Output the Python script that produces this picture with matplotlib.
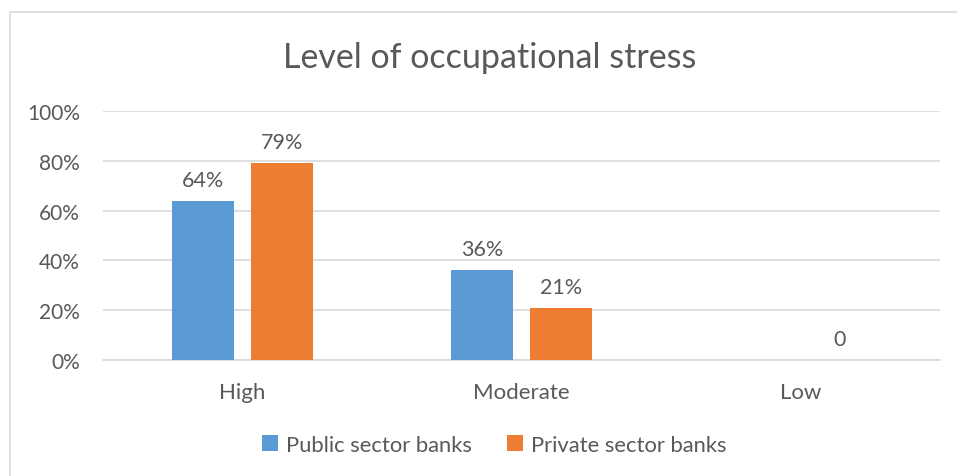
"""
Level of occupational stress: public vs private sector banks.
"""

import numpy as np
import matplotlib.pyplot as plt
from matplotlib.patches import Rectangle

categories = ['High', 'Moderate', 'Low']
public = [0.64, 0.36, 0.0]
private = [0.79, 0.21, 0.0]
public_labels = ['64%', '36%', '']
private_labels = ['79%', '21%', '0']
yticks = [0, 0.2, 0.4, 0.6, 0.8, 1.0]
ytick_labels = ['0%', '20%', '40%', '60%', '80%', '100%']

W, H = 957, 477
blue = '#5B9BD5'
orange = '#ED7D31'
text_col = '#595959'
grid_col = '#D9D9D9'

plt.rcParams['font.family'] = ['Lato', 'DejaVu Sans']

fig = plt.figure(figsize=(W / 100, H / 100), dpi=100)
fig.patch.set_facecolor('white')

# chart border (cropped at right and bottom)
fig.patches.append(Rectangle((10 / W, -0.1), 1.2, (H - 13) / H + 0.1,
                             transform=fig.transFigure, fill=False,
                             edgecolor=grid_col, linewidth=1.2))

ax = fig.add_axes([103 / W, (H - 361) / H, (940 - 103) / W, (361 - 112) / H])

x = np.arange(len(categories))
width = 0.224
offset = 0.1416
bars_pub = ax.bar(x - offset, public, width, color=blue, label='Public sector banks', zorder=3)
bars_pri = ax.bar(x + offset, private, width, color=orange, label='Private sector banks', zorder=3)

for bars, labels in [(bars_pub, public_labels), (bars_pri, private_labels)]:
    for b, lab in zip(bars, labels):
        ax.annotate(lab, (b.get_x() + b.get_width() / 2, b.get_height()),
                    xytext=(0, 11), textcoords='offset pixels',
                    ha='center', va='bottom', fontsize=15.5, color=text_col)

ax.set_xlim(-0.5, 2.5)
ax.set_ylim(0, 1.0)
ax.set_yticks(yticks)
ax.set_yticklabels(ytick_labels)
ax.set_xticks(x)
ax.set_xticklabels(categories)
ax.tick_params(axis='both', length=0, colors=text_col)
ax.tick_params(axis='y', pad=16.5, labelsize=15)
ax.tick_params(axis='x', pad=16, labelsize=16)
ax.grid(axis='y', color=grid_col, linewidth=1.2, zorder=0)
for side in ['top', 'right', 'left']:
    ax.spines[side].set_visible(False)
ax.spines['bottom'].set_color(grid_col)
ax.spines['bottom'].set_linewidth(1.2)

fig.text(490 / W, 1 - 58 / H, 'Level of occupational stress', ha='center', va='center',
         fontsize=24.5, color=text_col)

fig.legend(loc='center', bbox_to_anchor=(494 / W, 1 - 446 / H), ncol=2, frameon=False,
           fontsize=15.8, handlelength=0.75, handleheight=0.75, handletextpad=0.35,
           columnspacing=1.6, labelcolor=text_col)

fig.savefig('out.png', dpi=100)
